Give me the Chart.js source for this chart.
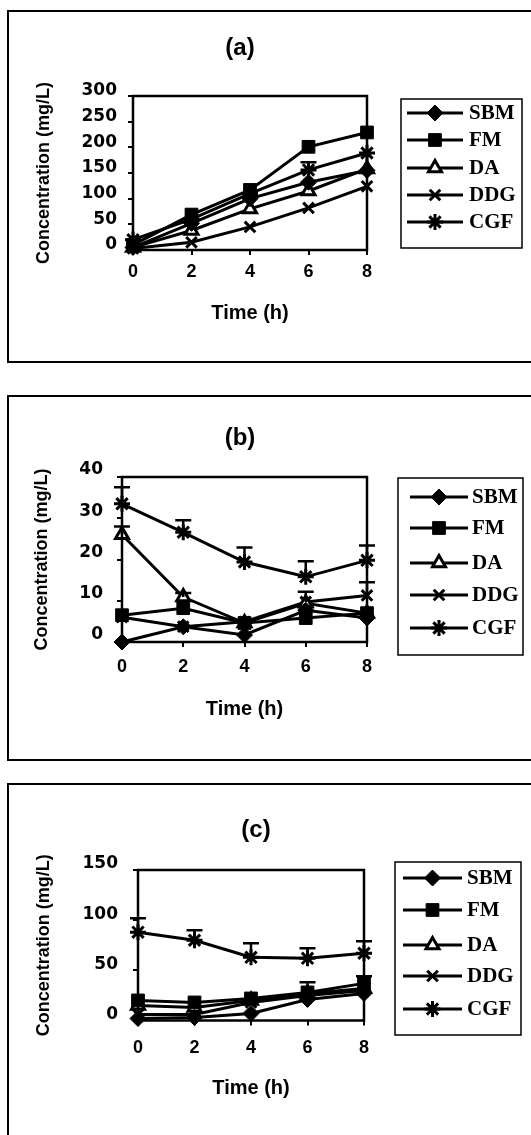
<!DOCTYPE html>
<html>
<head>
<meta charset="utf-8">
<script src="https://cdn.jsdelivr.net/npm/chart.js@4.4.0/dist/chart.umd.min.js"></script>
<style>
  body { margin: 0; background: #fff; width: 531px; height: 1135px; overflow: hidden; position: relative; }
  .frame { position: absolute; left: 7px; width: 540px; border: 2px solid #000; box-sizing: border-box; }
  canvas { position: absolute; left: 0; }
</style>
</head>
<body>
<div class="frame" style="top:10px;height:353px"></div>
<div class="frame" style="top:395px;height:366px"></div>
<div class="frame" style="top:783px;height:400px"></div>
<canvas id="chartA" width="531" height="380" style="top:0"></canvas>
<canvas id="chartB" width="531" height="390" style="top:380px"></canvas>
<canvas id="chartC" width="531" height="365" style="top:770px"></canvas>
<script>
// time points (h) and series names
const times = [0, 2, 4, 6, 8];
const seriesNames = ['SBM', 'FM', 'DA', 'DDG', 'CGF'];

// panel (a)
const sbmA = [5, 52, 100, 132, 155];
const fmA = [10, 69, 117, 201, 229];
const daA = [5, 38, 80, 115, 158];
const ddgA = [3, 15, 45, 82, 124];
const cgfA = [20, 60, 110, 156, 189];
const errCgfA = [0, 0, 0, 15, 0];
const yTicksA = [0, 300, 50];

// panel (b)
const sbmB = [0, 3.7, 1.7, 7.7, 5.8];
const fmB = [6.5, 8.2, 4.6, 5.8, 7];
const daB = [26, 10.9, 4.6, 9.4, 7];
const ddgB = [6, 3.7, 4.9, 9.7, 11.3];
const cgfB = [33.5, 26.6, 19.4, 15.8, 19.8];
const errDaB = [2, 1, 0, 0, 0];
const errDdgB = [0, 0, 0, 2.5, 3.2];
const errCgfB = [4, 2.9, 3.5, 3.8, 3.6];
const yTicksB = [0, 40, 10];

// panel (c)
const sbmC = [2, 3, 7, 21, 27];
const fmC = [20, 18, 22, 28, 37];
const daC = [15, 13, 20, 27, 32];
const ddgC = [6, 6, 18, 25, 30];
const cgfC = [88, 80, 63, 62, 67];
const errFmC = [0, 0, 0, 10, 7];
const errCgfC = [14, 10, 14, 10, 12];
const yTicksC = [0, 150, 50];

const markers = [
  { style: 'rectRot', r: 8, fill: '#000', bw: 1 },
  { style: 'rect', r: 9, fill: '#000', bw: 1 },
  { style: 'triangle', r: 7.5, fill: '#fff', bw: 3 },
  { style: 'crossRot', r: 7.5, fill: '#000', bw: 3 },
  { style: 'star', r: 8, fill: '#000', bw: 3 }
];

const panels = [
  {
    id: 'chartA', label: '(a)', height: 380,
    series: [sbmA, fmA, daA, ddgA, cgfA], errors: [null, null, null, null, errCgfA], yTicks: yTicksA,
    plot: { left: 133, right: 367, top: 96, bottom: 250 },
    titlePos: [240, 48], yTitleX: 44, xTickPad: 6, xTitleY: 313, yTickPad: 11, yLabelOffset: -5,
    legend: { box: [401, 99, 522, 248], rows: [113, 140, 168, 195, 222], line: [407, 463], text: 469 }
  },
  {
    id: 'chartB', label: '(b)', height: 390,
    series: [sbmB, fmB, daB, ddgB, cgfB], errors: [null, null, errDaB, errDdgB, errCgfB], yTicks: yTicksB,
    plot: { left: 122, right: 367, top: 97, bottom: 262 },
    titlePos: [240, 58], yTitleX: 42, xTickPad: 9, xTitleY: 329, yTickPad: 14, yLabelOffset: -7,
    legend: { box: [398, 98, 523, 275], rows: [117, 148, 183, 215, 248], line: [410, 468], text: 472 }
  },
  {
    id: 'chartC', label: '(c)', height: 365,
    series: [sbmC, fmC, daC, ddgC, cgfC], errors: [null, errFmC, null, null, errCgfC], yTicks: yTicksC,
    plot: { left: 138, right: 364, top: 100, bottom: 250.5 },
    titlePos: [256, 60], yTitleX: 44, xTickPad: 11.5, xTitleY: 318, yTickPad: 15, yLabelOffset: -6,
    legend: { box: [395, 92, 521, 265], rows: [108, 140, 175, 206, 239], line: [403, 462], text: 467 }
  }
];

function panelPlugin(p) {
  return {
    id: 'panelDecor',
    afterDatasetsDraw(chart) {
      const ctx = chart.ctx;
      const xs = chart.scales.x, ys = chart.scales.y;
      const a = chart.chartArea;
      ctx.save();
      ctx.strokeStyle = '#000';
      ctx.fillStyle = '#000';
      // error bars (upper only)
      ctx.lineWidth = 2.5;
      p.errors.forEach((err, i) => {
        if (!err) return;
        err.forEach((e, j) => {
          if (!e) return;
          const x = xs.getPixelForValue(times[j]);
          const y0 = ys.getPixelForValue(p.series[i][j]);
          const y1 = ys.getPixelForValue(p.series[i][j] + e);
          ctx.beginPath();
          ctx.moveTo(x, y0); ctx.lineTo(x, y1);
          ctx.moveTo(x - 8, y1); ctx.lineTo(x + 8, y1);
          ctx.stroke();
        });
      });
      // plot box
      ctx.lineWidth = 2.5;
      ctx.strokeRect(a.left, a.top, a.right - a.left, a.bottom - a.top);
      // panel label
      ctx.font = 'bold 24px "Liberation Sans"';
      ctx.textAlign = 'center';
      ctx.textBaseline = 'middle';
      ctx.fillText(p.label, p.titlePos[0], p.titlePos[1]);
      // legend
      const lg = p.legend;
      ctx.lineWidth = 1.5;
      ctx.strokeRect(lg.box[0], lg.box[1], lg.box[2] - lg.box[0], lg.box[3] - lg.box[1]);
      ctx.font = 'bold 21px "Liberation Serif"';
      ctx.textAlign = 'left';
      seriesNames.forEach((name, i) => {
        const y = lg.rows[i];
        ctx.lineWidth = 3;
        ctx.strokeStyle = '#000';
        ctx.beginPath();
        ctx.moveTo(lg.line[0], y); ctx.lineTo(lg.line[1], y);
        ctx.stroke();
        const m = markers[i];
        ctx.fillStyle = m.fill;
        ctx.lineWidth = m.bw;
        Chart.helpers.drawPoint(ctx, { pointStyle: m.style, radius: m.r, borderWidth: m.bw, rotation: 0 },
          (lg.line[0] + lg.line[1]) / 2, y);
        ctx.fillStyle = '#000';
        ctx.fillText(name, lg.text, y + 1);
      });
      ctx.restore();
    }
  };
}

function makeChart(p) {
  const yTitleFont = 18, xTitleFont = 20;
  const padLeft = p.yTitleX - yTitleFont * 1.2 / 2;
  const yWidth = p.plot.left - padLeft;
  const xHeight = p.xTitleY + xTitleFont * 1.2 / 2 - p.plot.bottom;
  const padBottom = p.height - p.plot.bottom - xHeight;

  new Chart(document.getElementById(p.id), {
    type: 'line',
    data: {
      datasets: seriesNames.map((name, i) => ({
        label: name,
        data: times.map((t, j) => ({ x: t, y: p.series[i][j] })),
        borderColor: '#000',
        backgroundColor: markers[i].fill,
        borderWidth: 3,
        pointStyle: markers[i].style,
        pointRadius: markers[i].r,
        pointBorderWidth: markers[i].bw,
        pointBackgroundColor: markers[i].fill,
        pointBorderColor: '#000',
        tension: 0,
        clip: false
      }))
    },
    options: {
      responsive: false,
      animation: false,
      events: [],
      layout: { padding: { left: padLeft, top: p.plot.top, right: 531 - p.plot.right, bottom: padBottom } },
      plugins: { legend: { display: false }, tooltip: { enabled: false } },
      scales: {
        x: {
          type: 'linear', min: 0, max: 8,
          ticks: { stepSize: 2, color: '#000', padding: p.xTickPad, font: { family: 'Liberation Sans', weight: 'bold', size: 18 } },
          grid: { drawOnChartArea: false, color: '#000', lineWidth: 2, tickLength: 5 },
          border: { display: false },
          title: { display: true, text: 'Time (h)', color: '#000', padding: 0, font: { family: 'Liberation Sans', weight: 'bold', size: xTitleFont } },
          afterFit: s => { s.height = xHeight; }
        },
        y: {
          min: p.yTicks[0], max: p.yTicks[1],
          ticks: { stepSize: p.yTicks[2], color: '#000', padding: p.yTickPad, labelOffset: p.yLabelOffset, font: { family: 'DejaVu Sans', weight: 'bold', size: 17 } },
          grid: { drawOnChartArea: false, color: '#000', lineWidth: 2, tickLength: 5 },
          border: { display: false },
          title: { display: true, text: 'Concentration (mg/L)', color: '#000', padding: 0, font: { family: 'Liberation Sans', weight: 'bold', size: yTitleFont } },
          afterFit: s => { s.width = yWidth; }
        }
      }
    },
    plugins: [panelPlugin(p)]
  });
}

panels.forEach(makeChart);
</script>
</body>
</html>
